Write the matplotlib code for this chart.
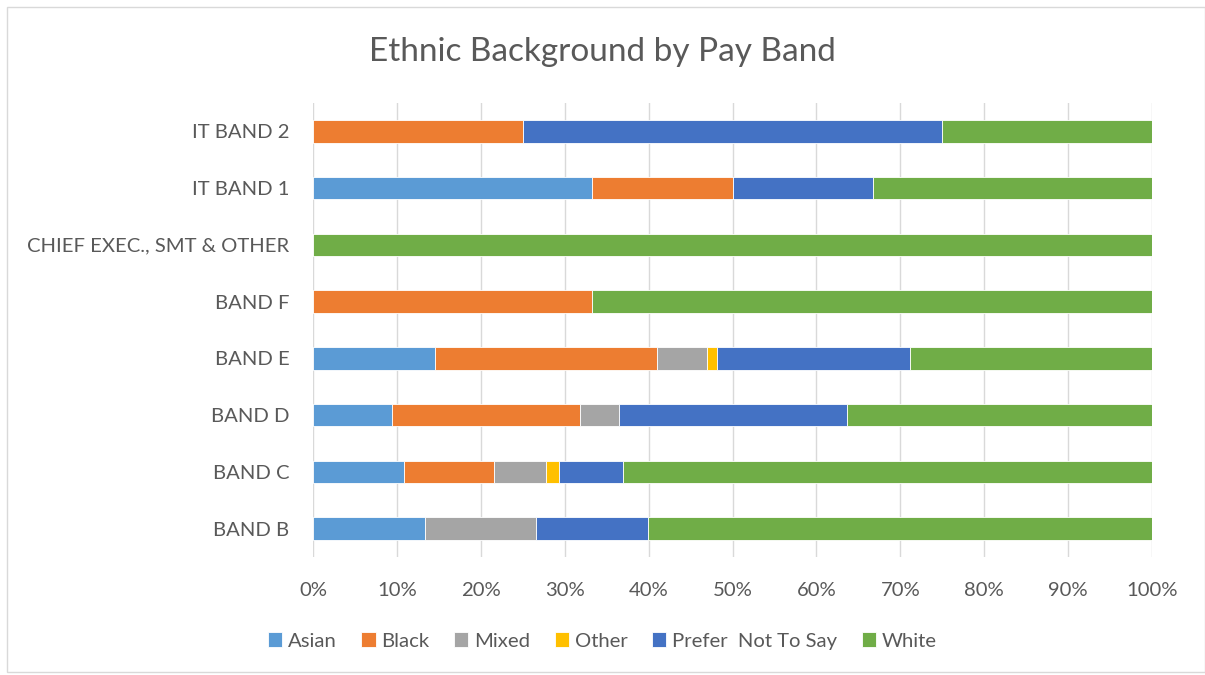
import matplotlib
matplotlib.use("Agg")
import matplotlib.pyplot as plt
from matplotlib.patches import Rectangle

plt.rcParams['font.family'] = ['Lato', 'DejaVu Sans']

bands = ['BAND B', 'BAND C', 'BAND D', 'BAND E', 'BAND F',
         'CHIEF EXEC., SMT & OTHER', 'IT BAND 1', 'IT BAND 2']

# share of each pay band (%)
asian = [13.3, 10.8, 9.4, 14.5, 0, 0, 33.3, 0]
black = [0, 10.8, 22.4, 26.5, 33.3, 0, 16.7, 25.0]
mixed = [13.3, 6.2, 4.7, 6.0, 0, 0, 0, 0]
other = [0, 1.5, 0, 1.2, 0, 0, 0, 0]
prefer_not = [13.3, 7.7, 27.1, 22.9, 0, 0, 16.7, 50.0]
white = [60.1, 63.0, 36.4, 28.9, 66.7, 100.0, 33.3, 25.0]

series = [('Asian', asian, '#5B9BD5'),
          ('Black', black, '#ED7D31'),
          ('Mixed', mixed, '#A5A5A5'),
          ('Other', other, '#FFC000'),
          ('Prefer  Not To Say', prefer_not, '#4472C4'),
          ('White', white, '#70AD47')]

text_col = '#595959'

fig = plt.figure(figsize=(12.05, 6.75), dpi=100)
ax = fig.add_axes([313 / 1205, 1 - 557 / 675, 839 / 1205, 454 / 675])

left = [0] * len(bands)
for name, vals, col in series:
    ax.barh(range(len(bands)), vals, left=left, height=0.4, color=col,
            edgecolor='white', linewidth=0.6, label=name, zorder=3)
    left = [a + b for a, b in zip(left, vals)]

ax.set_xlim(0, 100)
ax.set_ylim(-0.5, len(bands) - 0.5)
ax.set_xticks(range(0, 101, 10))
ax.set_xticklabels([f'{v}%' for v in range(0, 101, 10)])
ax.set_yticks(range(len(bands)))
ax.set_yticklabels(bands)
ax.tick_params(axis='both', length=0, labelsize=14.6, colors=text_col)
ax.tick_params(axis='x', pad=18)
ax.tick_params(axis='y', pad=17)
ax.grid(axis='x', color='#D9D9D9', linewidth=1.0, zorder=0)
for s in ax.spines.values():
    s.set_visible(False)

fig.text(0.5, 1 - 52 / 675, 'Ethnic Background by Pay Band', ha='center',
         va='center', fontsize=24, color=text_col)

ax.legend(loc='center', bbox_to_anchor=(0.5 * 1205 / 839 - 313 / 839, -(641 - 557) / 454),
          ncol=6, frameon=False, fontsize=14.6, labelcolor=text_col,
          handlelength=0.7, handleheight=0.7, handletextpad=0.3, columnspacing=1.2)

# chart area border
fig.patches.append(Rectangle((7 / 1205, 3 / 675), 1 - 7 / 1205, 1 - 10 / 675,
                             transform=fig.transFigure, fill=False,
                             edgecolor='#D9D9D9', linewidth=1.0))

fig.savefig('out.png', dpi=100)
